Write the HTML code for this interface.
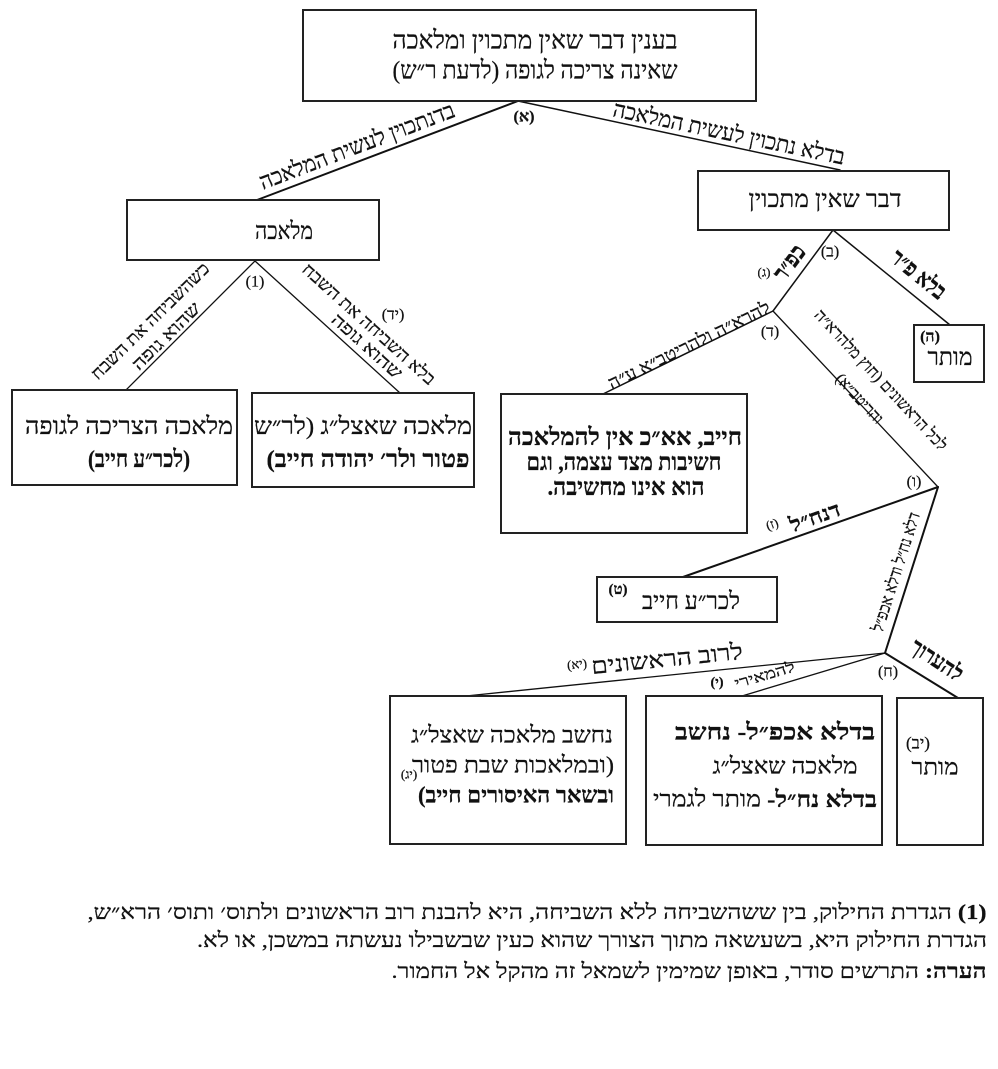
<!DOCTYPE html>
<html>
<head>
<meta charset="utf-8">
<style>
  html,body{margin:0;padding:0;background:#fff;}
  svg{display:block;}
  text{fill:#111;stroke:#111;stroke-width:0.25px;}
</style>
</head>
<body>
<svg width="998" height="1069" viewBox="0 0 998 1069" xmlns="http://www.w3.org/2000/svg" font-family="'Liberation Serif','DejaVu Serif','Noto Serif CJK SC',serif">
  <rect x="0" y="0" width="998" height="1069" fill="#fff"/>

  <!-- connectors -->
  <g stroke="#111" fill="none" stroke-linecap="round">
    <line x1="518" y1="101" x2="257" y2="200" stroke-width="2"/>
    <line x1="518" y1="101" x2="840" y2="170" stroke-width="1.5"/>
    <line x1="255" y1="261" x2="126" y2="390" stroke-width="1.3"/>
    <line x1="255" y1="261" x2="400" y2="393" stroke-width="1.3"/>
    <line x1="833" y1="230" x2="773" y2="311" stroke-width="1.5"/>
    <line x1="833" y1="230" x2="950" y2="325" stroke-width="1.5"/>
    <line x1="773" y1="311" x2="603" y2="394" stroke-width="1.5"/>
    <line x1="773" y1="311" x2="938" y2="487" stroke-width="1.3"/>
    <line x1="938" y1="487" x2="683" y2="577" stroke-width="2"/>
    <line x1="938" y1="487" x2="885" y2="653" stroke-width="2"/>
    <line x1="885" y1="653" x2="466" y2="696" stroke-width="1.3"/>
    <line x1="885" y1="653" x2="742" y2="696" stroke-width="1.3"/>
    <line x1="885" y1="653" x2="958" y2="698" stroke-width="2"/>
  </g>

  <!-- boxes -->
  <g stroke="#222" stroke-width="2" fill="#fff">
    <rect x="303" y="10" width="453" height="91"/>
    <rect x="127" y="200" width="252" height="60"/>
    <rect x="698" y="171" width="251" height="59"/>
    <rect x="12" y="390" width="225" height="95"/>
    <rect x="252" y="393" width="222" height="94"/>
    <rect x="914" y="325" width="70" height="57"/>
    <rect x="501" y="394" width="246" height="139"/>
    <rect x="597" y="577" width="180" height="45"/>
    <rect x="390" y="696" width="236" height="148"/>
    <rect x="646" y="696" width="236" height="149"/>
    <rect x="897" y="698" width="86" height="147"/>
  </g>

  <g dominant-baseline="central" text-anchor="middle" style="direction:rtl" direction="rtl">
    <!-- top box -->
    <text x="535" y="41" font-size="25" textLength="285" lengthAdjust="spacingAndGlyphs">בענין דבר שאין מתכוין ומלאכה</text>
    <text x="535" y="71" font-size="25" textLength="285" lengthAdjust="spacingAndGlyphs">שאינה צריכה לגופה (לדעת ר״ש)</text>
    <text x="524" y="117" font-size="16" font-weight="bold">(א)</text>

    <!-- top branches labels -->
    <text transform="translate(357,146) rotate(-20.8)" font-size="23" textLength="207" lengthAdjust="spacingAndGlyphs">בדנתכוין לעשית המלאכה</text>
    <text transform="translate(729,133) rotate(11.9)" font-size="23" textLength="236" lengthAdjust="spacingAndGlyphs">בדלא נתכוין לעשית המלאכה</text>

    <!-- מלאכה box -->
    <text x="284" y="232" font-size="24" textLength="58" lengthAdjust="spacingAndGlyphs">מלאכה</text>
    <!-- דבר שאין מתכוין -->
    <text x="825" y="200" font-size="24" textLength="153" lengthAdjust="spacingAndGlyphs">דבר שאין מתכוין</text>

    <!-- left sub-branches -->
    <text x="255" y="282" font-size="16">(1)</text>
    <text transform="translate(150,321) rotate(-44.5)" font-size="18" textLength="158" lengthAdjust="spacingAndGlyphs">כשהשביחה את השבח</text>
    <text transform="translate(166,336) rotate(-44.5)" font-size="18" textLength="88" lengthAdjust="spacingAndGlyphs">שהוא גופה</text>
    <text transform="translate(369,324) rotate(41.9)" font-size="18" textLength="172" lengthAdjust="spacingAndGlyphs">בלא השביחה את השבח</text>
    <text transform="translate(367,346) rotate(41.9)" font-size="18" textLength="88" lengthAdjust="spacingAndGlyphs">שהוא גופה</text>
    <text x="393" y="315" font-size="16">(יד)</text>

    <!-- left boxes -->
    <text x="129" y="427" font-size="24" textLength="208" lengthAdjust="spacingAndGlyphs">מלאכה הצריכה לגופה</text>
    <text x="139" y="460" font-size="24" font-weight="bold" textLength="102" lengthAdjust="spacingAndGlyphs">(לכר״ע חייב)</text>
    <text x="363" y="427" font-size="24" textLength="218" lengthAdjust="spacingAndGlyphs">מלאכה שאצל״ג (לר״ש</text>
    <text x="368" y="460" font-size="24" font-weight="bold" textLength="203" lengthAdjust="spacingAndGlyphs">פטור ולר׳ יהודה חייב)</text>

    <!-- right side top -->
    <text x="830" y="252" font-size="16">(ב)</text>
    <text transform="translate(790,263) rotate(-53.5)" font-size="24" font-weight="bold" textLength="38" lengthAdjust="spacingAndGlyphs">כפ״ר</text>
    <text x="764" y="272" font-size="13">(ג)</text>
    <text transform="translate(918,275) rotate(39)" font-size="24" font-weight="bold" textLength="64" lengthAdjust="spacingAndGlyphs">בלא פ״ר</text>
    <text x="930" y="337" font-size="16" font-weight="bold">(ה)</text>
    <text x="950" y="358" font-size="24" textLength="45" lengthAdjust="spacingAndGlyphs">מותר</text>
    <text x="770" y="332" font-size="16">(ד)</text>

    <text transform="translate(689,345) rotate(-26)" font-size="18" textLength="178" lengthAdjust="spacingAndGlyphs">להרא״ה ולהריטב״א ע״ה</text>
    <text transform="translate(881,380) rotate(47)" font-size="17" textLength="186" lengthAdjust="spacingAndGlyphs">לכל הראשונים (חוץ מלהרא״ה</text>
    <text transform="translate(859,399) rotate(47)" font-size="16" textLength="62" lengthAdjust="spacingAndGlyphs">והריטב״א)</text>

    <!-- חייב box -->
    <text x="625" y="438" font-size="24" font-weight="bold" textLength="234" lengthAdjust="spacingAndGlyphs">חייב, אא״כ אין להמלאכה</text>
    <text x="624" y="463" font-size="24" font-weight="bold" textLength="195" lengthAdjust="spacingAndGlyphs">חשיבות מצד עצמה, וגם</text>
    <text x="626" y="488" font-size="24" font-weight="bold" textLength="157" lengthAdjust="spacingAndGlyphs">הוא אינו מחשיבה.</text>

    <text x="914" y="482" font-size="16">(ו)</text>
    <text transform="translate(815,517) rotate(-19.4)" font-size="21" font-weight="bold" textLength="52" lengthAdjust="spacingAndGlyphs">דנח״ל</text>
    <text transform="translate(772,524) rotate(-19.4)" font-size="13">(ז)</text>
    <text transform="translate(896,572) rotate(-72.3)" font-size="17" textLength="124" lengthAdjust="spacingAndGlyphs">דלא נח״ל ודלא אכפ״ל</text>

    <!-- לכר"ע חייב box -->
    <text x="691" y="602" font-size="24" textLength="98" lengthAdjust="spacingAndGlyphs">לכר״ע חייב</text>
    <text x="618" y="590" font-size="15" font-weight="bold">(ט)</text>

    <!-- bottom junction labels -->
    <text x="888" y="672" font-size="16">(ח)</text>
    <text transform="translate(937,660) rotate(33)" font-size="23" font-weight="bold" textLength="58" lengthAdjust="spacingAndGlyphs">להערוך</text>
    <text transform="translate(667,659) rotate(-5.7)" font-size="23" textLength="152" lengthAdjust="spacingAndGlyphs">לרוב הראשונים</text>
    <text transform="translate(577,664) rotate(-5.7)" font-size="13">(יא)</text>
    <text transform="translate(765,676) rotate(-16.4)" font-size="15" textLength="62" lengthAdjust="spacingAndGlyphs">להמאירי</text>
    <text x="717" y="683" font-size="14" font-weight="bold">(י)</text>

    <!-- bottom left box -->
    <text x="512" y="735" font-size="23" textLength="202" lengthAdjust="spacingAndGlyphs">נחשב מלאכה שאצל״ג</text>
    <text x="513" y="765" font-size="23" textLength="202" lengthAdjust="spacingAndGlyphs">(ובמלאכות שבת פטור</text>
    <text x="516" y="795" font-size="23" font-weight="bold" textLength="196" lengthAdjust="spacingAndGlyphs">ובשאר האיסורים חייב)</text>
    <text x="409" y="774" font-size="13">(יג)</text>

    <!-- bottom middle box -->
    <text x="775" y="732" font-size="23" font-weight="bold" textLength="200" lengthAdjust="spacingAndGlyphs">בדלא אכפ״ל- נחשב</text>
    <text x="785" y="766" font-size="23" textLength="145" lengthAdjust="spacingAndGlyphs">מלאכה שאצל״ג</text>
    <text x="765" y="799" font-size="23" textLength="224" lengthAdjust="spacingAndGlyphs"><tspan font-weight="bold">בדלא נח״ל-</tspan> מותר לגמרי</text>

    <!-- bottom right box -->
    <text x="918" y="743" font-size="17">(יב)</text>
    <text x="935" y="767" font-size="23" textLength="47" lengthAdjust="spacingAndGlyphs">מותר</text>

    <!-- footnotes -->
    <text x="537" y="912" font-size="21" textLength="899" lengthAdjust="spacingAndGlyphs"><tspan font-weight="bold">(1)</tspan> הגדרת החילוק, בין ששהשביחה ללא השביחה,  היא להבנת רוב הראשונים ולתוס׳ ותוס׳ הרא״ש,</text>
    <text x="592" y="940" font-size="21" textLength="790" lengthAdjust="spacingAndGlyphs">הגדרת החילוק היא, בשעשאה מתוך הצורך שהוא כעין שבשבילו נעשתה במשכן, או לא.</text>
    <text x="689" y="971" font-size="21" textLength="595" lengthAdjust="spacingAndGlyphs"><tspan font-weight="bold">הערה:</tspan> התרשים סודר, באופן שמימין לשמאל זה מהקל אל החמור.</text>
  </g>
</svg>
</body>
</html>
